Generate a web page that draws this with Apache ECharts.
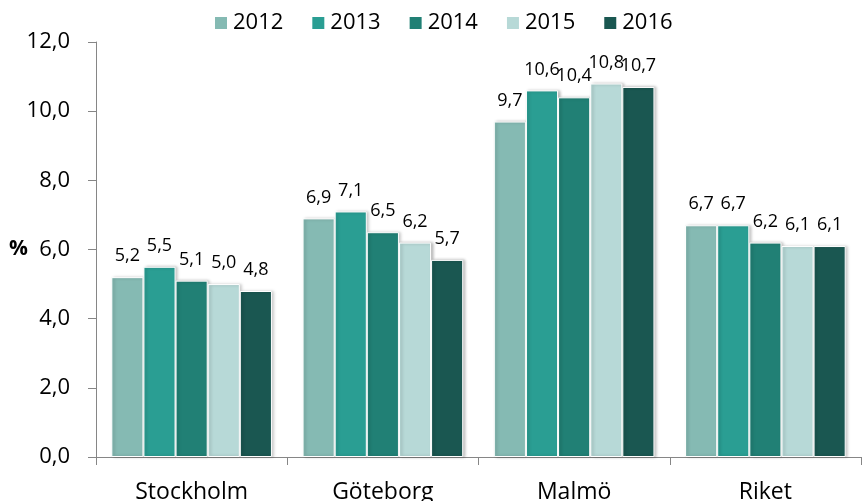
<!DOCTYPE html>
<html>
<head>
<meta charset="utf-8">
<script src="https://cdn.jsdelivr.net/npm/echarts@6/dist/echarts.min.js"></script>
<style>
html, body { margin: 0; padding: 0; background: #ffffff; }
#chart { width: 863px; height: 501px; }
</style>
</head>
<body>
<div id="chart"></div>
<script>
var categories = ['Stockholm', 'Göteborg', 'Malmö', 'Riket'];
var years = ['2012', '2013', '2014', '2015', '2016'];
var v2012 = [5.2, 6.9, 9.7, 6.7];
var v2013 = [5.5, 7.1, 10.6, 6.7];
var v2014 = [5.1, 6.5, 10.4, 6.2];
var v2015 = [5.0, 6.2, 10.8, 6.1];
var v2016 = [4.8, 5.7, 10.7, 6.1];
var colors = ['#85BAB3', '#2A9E93', '#218075', '#B7D9D7', '#1A5751'];

var fontFam = 'Open Sans, Noto Sans, sans-serif';
var allData = [v2012, v2013, v2014, v2015, v2016];

function fmt(v) {
	return v.toFixed(1).replace('.', ',');
}

var series = [];
for (var i = 0; i < years.length; i++) {
	series.push({
		name : years[i],
		type : 'bar',
		data : allData[i],
		barGap : '0%',
		barCategoryGap : '16%',
		itemStyle : {
			color : colors[i],
			borderColor : '#ffffff',
			borderWidth : 1,
			shadowColor : 'rgba(0,0,0,0.25)',
			shadowBlur : 3,
			shadowOffsetX : 2,
			shadowOffsetY : 0
		},
		label : {
			show : true,
			position : 'top',
			distance : 12,
			color : '#000000',
			fontSize : 18,
			fontFamily : fontFam,
			formatter : function(p) {
				return fmt(p.value);
			}
		}
	});
}

var obj = echarts.init(document.getElementById('chart'));
var option = {
	backgroundColor : '#ffffff',
	animation : false,
	color : colors,
	legend : {
		data : years,
		top : 7,
		left : 208,
		itemWidth : 14,
		itemHeight : 14,
		itemGap : 27,
		icon : 'rect',
		textStyle : {
			color : '#000000',
			fontSize : 22,
			fontFamily : fontFam
		}
	},
	grid : {
		left : 96,
		right : 2,
		top : 42,
		bottom : 44,
		outerBoundsMode : 'none'
	},
	xAxis : {
		type : 'category',
		data : categories,
		axisLine : {
			lineStyle : {
				color : '#868686',
				width : 1
			}
		},
		axisTick : {
			show : true,
			length : 8,
			lineStyle : {
				color : '#868686'
			}
		},
		axisLabel : {
			color : '#000000',
			fontSize : 23,
			fontFamily : fontFam,
			margin : 24
		}
	},
	yAxis : {
		type : 'value',
		min : 0,
		max : 12,
		interval : 2,
		name : '%',
		nameLocation : 'middle',
		nameRotate : 0,
		nameGap : 68,
		nameMoveOverlap : false,
		nameTextStyle : {
			color : '#000000',
			fontSize : 21,
			fontWeight : 'bold',
			fontFamily : fontFam
		},
		splitLine : {
			show : false
		},
		axisLine : {
			show : true,
			lineStyle : {
				color : '#868686',
				width : 1
			}
		},
		axisTick : {
			show : true,
			length : 8,
			lineStyle : {
				color : '#868686'
			}
		},
		axisLabel : {
			color : '#000000',
			fontSize : 22,
			fontFamily : fontFam,
			margin : 26,
			formatter : function(v) {
				return fmt(v);
			}
		}
	},
	series : series
};
obj.setOption(option);
</script>
</body>
</html>
